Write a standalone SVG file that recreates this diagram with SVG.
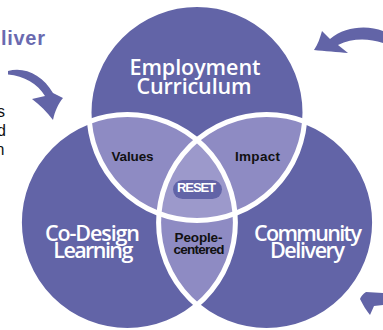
<svg xmlns="http://www.w3.org/2000/svg" width="383" height="330" viewBox="0 0 383 330">
  <style>
    .dark { fill: #6264a7; }
    .lens { fill: #8e8bc3; }
    .core { fill: #9c99cb; }
    .outline { fill: none; stroke: #ffffff; stroke-width: 5; }
    .big { font-family: "Open Sans", "Liberation Sans", sans-serif; font-weight: 600; font-size: 21.5px; fill: #ffffff; text-anchor: middle; }
    .small { font-family: "Liberation Sans", Arial, sans-serif; font-weight: 700; font-size: 13.5px; fill: #111111; text-anchor: middle; }
    .pilltext { font-family: "Liberation Sans", Arial, sans-serif; font-weight: 700; font-size: 13px; fill: #ffffff; text-anchor: middle; }
    .side { font-family: "Liberation Sans", Arial, sans-serif; font-size: 16px; fill: #111111; }
    .head { font-family: "Liberation Sans", Arial, sans-serif; font-weight: 700; font-size: 20px; fill: #6a6ab0; }
    .arrow { fill: #6264a7; }
  </style>
  <defs>
    <clipPath id="clipTop"><circle cx="197" cy="112.5" r="108"/></clipPath>
    <clipPath id="clipLeft"><circle cx="127.4" cy="222.5" r="108"/></clipPath>
    <clipPath id="clipRight"><circle cx="266.6" cy="222.5" r="108"/></clipPath>
  </defs>

  <!-- side texts (cropped in reference) -->
  <g id="side-text">
    <text class="head" x="1" y="45" textLength="44">liver</text>
    <text class="side" x="-3" y="116.5">s</text>
    <text class="side" x="-3" y="135.5">d</text>
    <text class="side" x="-4.5" y="155">n</text>
  </g>

  <!-- connectors: decorative arrows -->
  <g id="connectors">
    <path class="arrow" d="M8,71 C24,66 43,75 53,93 L63,98 C58,104 55,111 53,120 C47,112 40,105 32,99 L45,96 C38,84 24,76 8,74.5 Z"/>
    <path class="arrow" d="M383,31 C368,25 345,26 330,39 L322,31 C320,38 318,44 314,50 C324,51 338,52 348,53 L338,45 C352,38 368,38 383,43 Z"/>
    <path class="arrow" d="M383,293 L366,292 C363,294 361,296 360,299 C363,305 366,310 370,315 L374,306 L383,305 Z"/>
  </g>

  <!-- base circles -->
  <g id="employment-curriculum">
    <circle class="dark" cx="197" cy="112.5" r="108"/>
  </g>
  <g id="co-design-learning">
    <circle class="dark" cx="127.4" cy="222.5" r="108"/>
  </g>
  <g id="community-delivery">
    <circle class="dark" cx="266.6" cy="222.5" r="108"/>
  </g>

  <!-- overlaps -->
  <g id="values">
    <circle class="lens" cx="127.4" cy="222.5" r="108" clip-path="url(#clipTop)"/>
  </g>
  <g id="impact">
    <circle class="lens" cx="266.6" cy="222.5" r="108" clip-path="url(#clipTop)"/>
  </g>
  <g id="people-centered">
    <circle class="lens" cx="266.6" cy="222.5" r="108" clip-path="url(#clipLeft)"/>
  </g>
  <g id="reset-core" clip-path="url(#clipTop)">
    <circle class="core" cx="266.6" cy="222.5" r="108" clip-path="url(#clipLeft)"/>
  </g>

  <!-- white outlines -->
  <g id="outlines">
    <circle class="outline" cx="197" cy="112.5" r="108"/>
    <circle class="outline" cx="127.4" cy="222.5" r="108"/>
    <circle class="outline" cx="266.6" cy="222.5" r="108"/>
  </g>

  <!-- labels -->
  <g id="label-employment">
    <text class="big" x="195" y="74.5" textLength="131">Employment</text>
    <text class="big" x="194" y="93.5" textLength="115">Curriculum</text>
  </g>
  <g id="label-codesign">
    <text class="big" x="92.5" y="241" textLength="95">Co-Design</text>
    <text class="big" x="93.3" y="258" textLength="80">Learning</text>
  </g>
  <g id="label-community">
    <text class="big" x="308" y="241" textLength="108">Community</text>
    <text class="big" x="307.5" y="258" textLength="75">Delivery</text>
  </g>
  <g id="label-values">
    <text class="small" x="132.5" y="161" textLength="42">Values</text>
  </g>
  <g id="label-impact">
    <text class="small" x="257.5" y="160.5" textLength="45">Impact</text>
  </g>
  <g id="label-people">
    <text class="small" x="198.5" y="241.5" textLength="48">People-</text>
    <text class="small" x="199" y="253.5" textLength="51">centered</text>
  </g>
  <g id="reset">
    <rect class="dark" x="173" y="180" width="49" height="19" rx="9.5"/>
    <text class="pilltext" x="196.5" y="192" textLength="39">RESET</text>
  </g>
</svg>
